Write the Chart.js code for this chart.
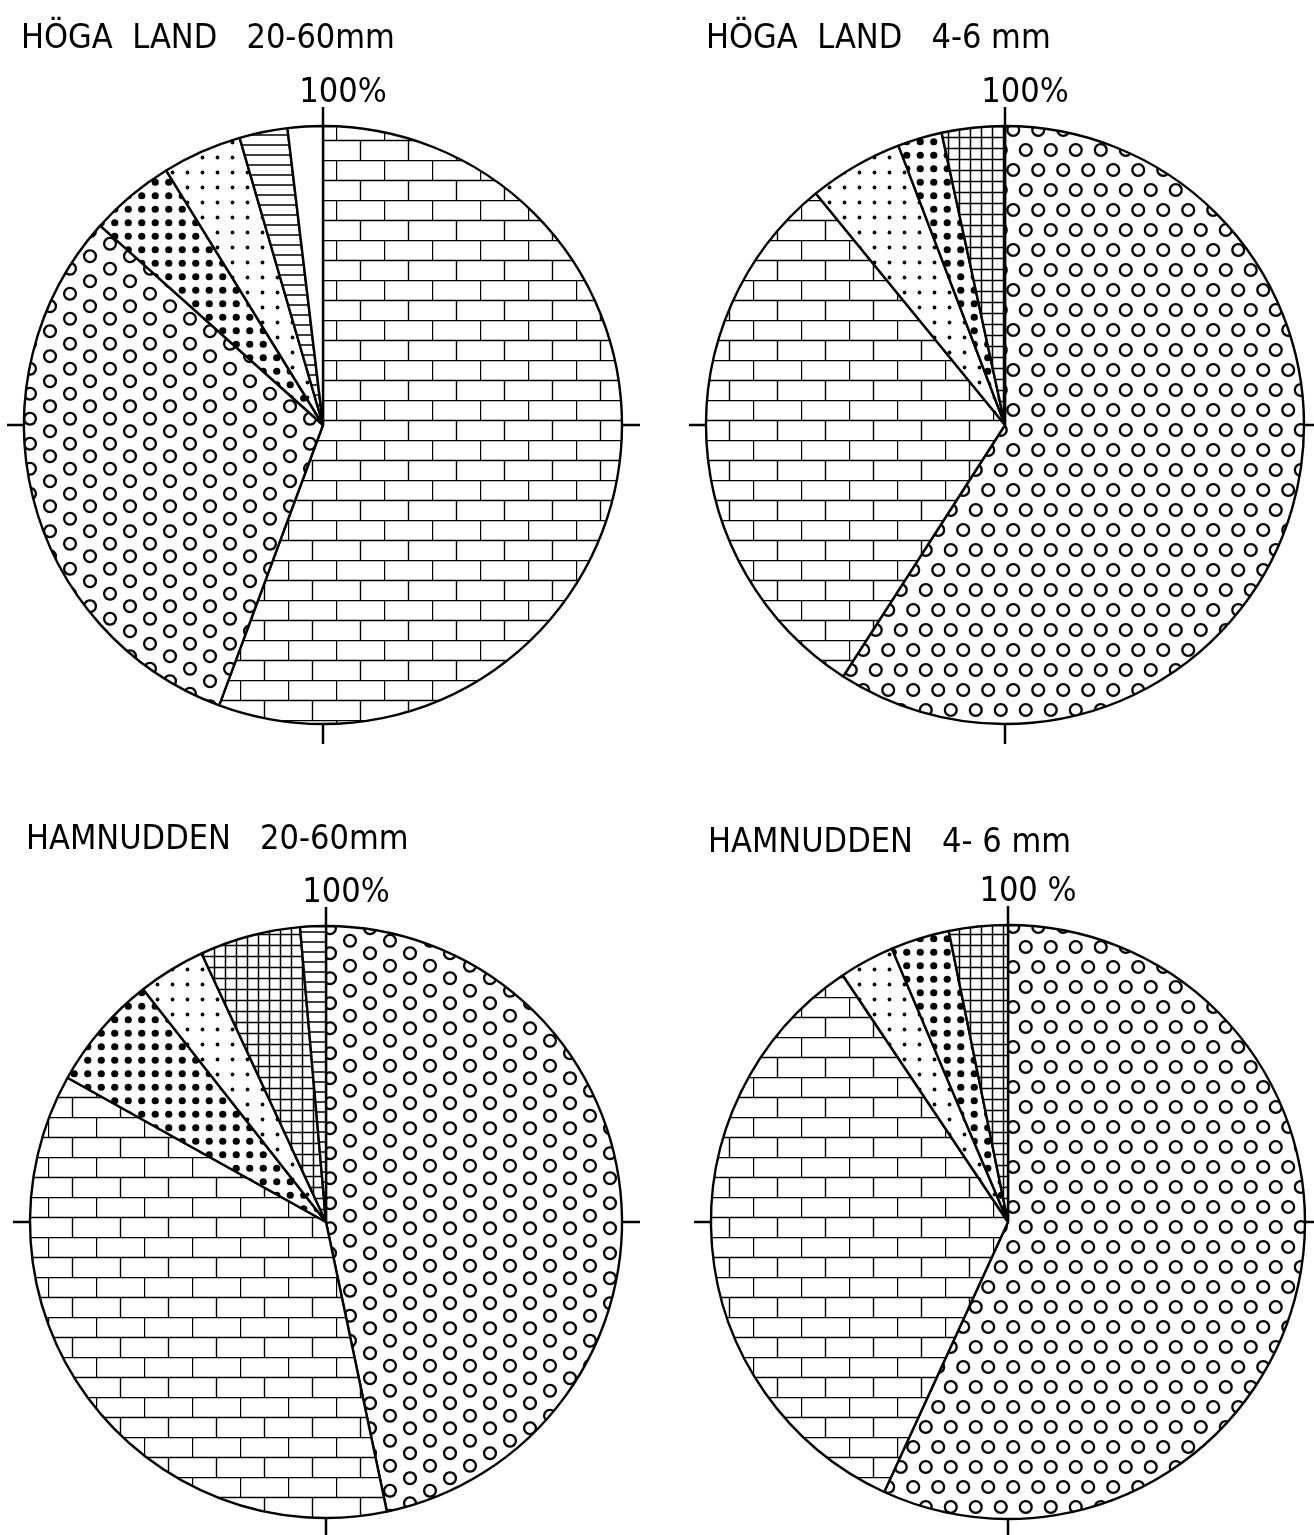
<!DOCTYPE html>
<html>
<head>
<meta charset="utf-8">
<script src="https://cdn.jsdelivr.net/npm/chart.js@4.4.1/dist/chart.umd.min.js"></script>
<style>
html,body{margin:0;padding:0;background:#fff;}
#wrap{position:relative;width:1314px;height:1535px;overflow:hidden;background:#fff;}
canvas{position:absolute;display:block;}
</style>
</head>
<body>
<div id="wrap">
<canvas id="c1" width="657" height="797" style="left:0;top:0"></canvas>
<canvas id="c2" width="657" height="797" style="left:657px;top:0"></canvas>
<canvas id="c3" width="657" height="738" style="left:0;top:797px"></canvas>
<canvas id="c4" width="657" height="738" style="left:657px;top:797px"></canvas>
</div>
<script>
// ---------------- DATA (percent of sample, clockwise from 100% mark) ----------------
const hogaCoarseCategories = ["bricks", "rings", "large dots", "small dots", "horizontal lines", "blank"];
const hogaCoarseValues     = [55.7, 31.0, 4.6, 4.3, 2.6, 1.9];

const hogaFineCategories = ["rings", "bricks", "small dots", "large dots", "grid"];
const hogaFineValues     = [59.1, 30.0, 5.1, 2.4, 3.4];

const hamnCoarseCategories = ["rings", "bricks", "large dots", "small dots", "grid", "horizontal lines"];
const hamnCoarseValues     = [46.7, 36.4, 6.3, 3.7, 5.5, 1.4];

const hamnFineCategories = ["rings", "bricks", "small dots", "large dots", "grid"];
const hamnFineValues     = [56.9, 33.8, 3.0, 3.2, 3.2];

const chartTitles = ["HÖGA  LAND   20-60mm", "HÖGA  LAND   4-6 mm", "HAMNUDDEN   20-60mm", "HAMNUDDEN   4- 6 mm"];
const topLabels   = ["100%", "100%", "100%", "100 %"];

// ---------------- PATTERNS ----------------
function tile(w, h, draw) {
  const c = document.createElement('canvas');
  c.width = w; c.height = h;
  const g = c.getContext('2d');
  g.fillStyle = '#fff'; g.fillRect(0, 0, w, h);
  g.strokeStyle = '#000'; g.fillStyle = '#000';
  draw(g, w, h);
  return g.createPattern(c, 'repeat');
}
function wrapped(g, w, h, x, y, fn) {
  for (const dx of [-w, 0, w]) for (const dy of [-h, 0, h]) fn(x + dx, y + dy);
}
function ring(g, w, h, x, y, r, lw) {
  g.lineWidth = lw;
  wrapped(g, w, h, x, y, (px, py) => { g.beginPath(); g.arc(px, py, r, 0, Math.PI * 2); g.stroke(); });
}
function dot(g, w, h, x, y, r) {
  wrapped(g, w, h, x, y, (px, py) => { g.beginPath(); g.arc(px, py, r, 0, Math.PI * 2); g.fill(); });
}
const pat = {
  bricks: tile(48, 40, (g) => {
    g.lineWidth = 1.4; g.beginPath();
    g.moveTo(0, 0.5); g.lineTo(48, 0.5);
    g.moveTo(0, 20.5); g.lineTo(48, 20.5);
    g.moveTo(0.5, 0); g.lineTo(0.5, 20.5);
    g.moveTo(24.5, 20.5); g.lineTo(24.5, 40);
    g.stroke();
  }),
  ringsRows: tile(25, 40, (g, w, h) => { ring(g, w, h, 6.25, 10, 5.9, 2.3); ring(g, w, h, 18.75, 30, 5.9, 2.3); }),
  ringsCols: tile(40, 25, (g, w, h) => { ring(g, w, h, 10, 6.25, 5.9, 2.3); ring(g, w, h, 30, 18.75, 5.9, 2.3); }),
  largeDots: tile(27, 27, (g, w, h) => {
    for (const x of [6.75, 20.25]) for (const y of [6.75, 20.25]) dot(g, w, h, x, y, 3.6);
  }),
  smallDots: tile(15, 15, (g, w, h) => dot(g, w, h, 7.5, 7.5, 1.9)),
  hlines: tile(10, 10, (g) => { g.lineWidth = 1.5; g.beginPath(); g.moveTo(0, 5); g.lineTo(10, 5); g.stroke(); }),
  grid: tile(11, 11, (g) => {
    g.lineWidth = 1.5; g.beginPath();
    g.moveTo(0, 5.5); g.lineTo(11, 5.5);
    g.moveTo(5.5, 0); g.lineTo(5.5, 11);
    g.stroke();
  })
};
function fillFor(cat, ringKind) {
  switch (cat) {
    case 'bricks': return pat.bricks;
    case 'rings': return ringKind === 'cols' ? pat.ringsCols : pat.ringsRows;
    case 'large dots': return pat.largeDots;
    case 'small dots': return pat.smallDots;
    case 'horizontal lines': return pat.hlines;
    case 'grid': return pat.grid;
    default: return '#ffffff';
  }
}

// ---------------- DECORATION PLUGIN (ticks, 100% label, title) ----------------
const FONT = '"Liberation Sans Narrow", "DejaVu Sans Condensed", sans-serif';
const decor = {
  id: 'decor',
  afterDraw(chart, args, o) {
    const arc = chart.getDatasetMeta(0).data[0];
    if (!arc) return;
    const cx = arc.x, cy = arc.y, R = arc.outerRadius;
    const ctx = chart.ctx;
    ctx.save();
    ctx.strokeStyle = '#000';
    ctx.lineWidth = 2.5;
    ctx.beginPath();
    ctx.moveTo(cx, cy - R - 19); ctx.lineTo(cx, cy - R);
    ctx.moveTo(cx, cy + R); ctx.lineTo(cx, cy + R + 20);
    ctx.moveTo(cx - R - 17, cy); ctx.lineTo(cx - R, cy);
    ctx.moveTo(cx + R, cy); ctx.lineTo(cx + R + 18, cy);
    ctx.stroke();
    ctx.fillStyle = '#000';
    ctx.font = '34px ' + FONT;
    ctx.textAlign = 'center';
    ctx.textBaseline = 'alphabetic';
    ctx.fillText(o.top, cx + 20, cy - R - 24);
    ctx.textAlign = 'left';
    ctx.font = '34px ' + FONT;
    ctx.fillText(o.title, o.tx, o.ty);
    ctx.restore();
  }
};

function makeChart(id, categories, values, idx, geo) {
  const el = document.getElementById(id);
  const W = el.width, H = el.height, S = 300;
  return new Chart(el, {
    type: 'pie',
    data: {
      labels: categories,
      datasets: [{
        data: values,
        backgroundColor: categories.map(c => fillFor(c, geo.rings)),
        borderColor: '#000',
        borderWidth: 2.4
      }]
    },
    options: {
      responsive: false,
      animation: false,
      devicePixelRatio: 1,
      events: [],
      radius: geo.r,
      layout: { padding: { left: geo.cx - S, right: W - geo.cx - S, top: geo.cy - S, bottom: H - geo.cy - S } },
      plugins: {
        legend: { display: false },
        tooltip: { enabled: false },
        decor: { title: chartTitles[idx], top: topLabels[idx], tx: geo.tx, ty: geo.ty }
      }
    },
    plugins: [decor]
  });
}

makeChart('c1', hogaCoarseCategories, hogaCoarseValues, 0, { cx: 323, cy: 425, r: 299, rings: 'cols', tx: 21, ty: 48 });
makeChart('c2', hogaFineCategories, hogaFineValues, 1, { cx: 348, cy: 425, r: 299, rings: 'rows', tx: 49, ty: 48 });
makeChart('c3', hamnCoarseCategories, hamnCoarseValues, 2, { cx: 326, cy: 425, r: 296, rings: 'cols', tx: 26, ty: 52 });
makeChart('c4', hamnFineCategories, hamnFineValues, 3, { cx: 351, cy: 425, r: 297, rings: 'rows', tx: 51, ty: 55 });
</script>
</body>
</html>
